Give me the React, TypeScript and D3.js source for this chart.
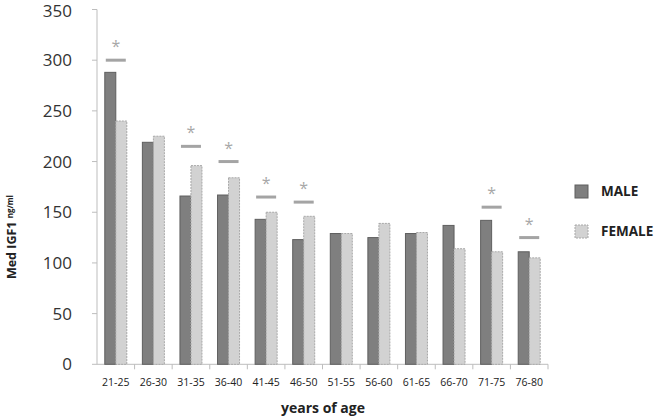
import React from "react";
import * as d3 from "d3";

const categories = ["21-25", "26-30", "31-35", "36-40", "41-45", "46-50", "51-55", "56-60", "61-65", "66-70", "71-75", "76-80"];
const maleValues = [288, 219, 166, 167, 143, 123, 129, 125, 129, 137, 142, 111];
const femaleValues = [240, 225, 196, 184, 150, 146, 129, 139, 130, 114, 111, 105];
const sigCategories = ["21-25", "31-35", "36-40", "41-45", "46-50", "71-75", "76-80"];
const sigLevels = [300, 215, 200, 165, 160, 155, 125];
const yTicks = [0, 50, 100, 150, 200, 250, 300, 350];
const seriesNames = ["MALE", "FEMALE"];

const W = 658, H = 419;
const plotLeft = 97, plotRight = 548, plotTop = 9.5, plotBottom = 364.3;

export default function App() {
  const x = d3.scaleBand<string>().domain(categories).range([plotLeft, plotRight]).paddingInner(0).paddingOuter(0);
  const y = d3.scaleLinear().domain([0, 350]).range([plotBottom, plotTop]);
  const barW = 11;
  const font = "'Open Sans', 'DejaVu Sans', sans-serif";
  const fillM = "#7f7f7f", strokeM = "#5f5f5f";
  const fillF = "#d2d2d2", strokeF = "#a8a8a8";

  return (
    <svg width={W} height={H} style={{ position: "absolute", left: 0, top: 0, background: "#fff" }}>
      {/* y axis */}
      <line x1={plotLeft} x2={plotLeft} y1={y(350)} y2={plotBottom} stroke="#bdbdbd" strokeWidth={1} />
      {yTicks.map((t) => (
        <g key={t}>
          <line x1={plotLeft - 5} x2={plotLeft} y1={y(t)} y2={y(t)} stroke="#bdbdbd" />
          <text x={72} y={Math.max(y(t), 10.5)} dy="0.36em" textAnchor="end" fontFamily={font} fontSize={17} fill="#333">{t}</text>
        </g>
      ))}
      {/* x axis */}
      <line x1={plotLeft} x2={plotRight} y1={plotBottom} y2={plotBottom} stroke="#bdbdbd" />
      {categories.map((c) => (
        <line key={"xt" + c} x1={x(c)! + x.bandwidth()} x2={x(c)! + x.bandwidth()} y1={plotBottom} y2={plotBottom + 5} stroke="#bdbdbd" />
      ))}
      {categories.map((c) => (
        <text key={"xl" + c} x={x(c)! + x.bandwidth() / 2} y={386} textAnchor="middle" fontFamily="'Liberation Sans Narrow', 'Open Sans', sans-serif" fontSize={10.5} fill="#222">{c}</text>
      ))}
      {/* bars */}
      {categories.map((c, i) => {
        const cx = x(c)! + x.bandwidth() / 2;
        return (
          <g key={"b" + c}>
            <rect x={cx - barW} y={y(maleValues[i])} width={barW} height={plotBottom - y(maleValues[i])} fill={fillM} stroke={strokeM} strokeWidth={1} />
            <rect x={cx} y={y(femaleValues[i])} width={barW} height={plotBottom - y(femaleValues[i])} fill={fillF} stroke={strokeF} strokeWidth={1} strokeDasharray="2,1" />
          </g>
        );
      })}
      {/* significance */}
      {sigCategories.map((c, i) => {
        const cx = x(c)! + x.bandwidth() / 2;
        const ly = y(sigLevels[i]);
        return (
          <g key={"s" + c}>
            <line x1={cx - 10} x2={cx + 10} y1={ly} y2={ly} stroke="#a4a4a4" strokeWidth={3} />
            <text x={cx} y={ly - 8} textAnchor="middle" fontFamily={font} fontSize={16} fill="#a8a8a8">*</text>
          </g>
        );
      })}
      {/* legend */}
      {seriesNames.map((s, i) => (
        <g key={"lg" + s} transform={`translate(575, ${185 + i * 40})`}>
          <rect x={0} y={0} width={13} height={13} fill={i === 0 ? fillM : fillF} stroke={i === 0 ? strokeM : strokeF} strokeDasharray={i === 0 ? undefined : "2,1"} />
          <text x={26} y={6.5} dy="0.36em" fontFamily={font} fontSize={13.5} fontWeight="bold" fill="#222">{s}</text>
        </g>
      ))}
      {/* axis titles */}
      <text x={323} y={413} textAnchor="middle" fontFamily={font} fontSize={14} fontWeight="bold" fill="#222">years of age</text>
      <g transform="translate(16, 237) rotate(-90)">
        <text x={0} y={0} textAnchor="middle" fontFamily={font} fontWeight="bold" fill="#222">
          <tspan fontSize={12.5}>Med IGF1 </tspan>
          <tspan fontSize={8} dy={-3}> ng/ml</tspan>
        </text>
      </g>
    </svg>
  );
}
